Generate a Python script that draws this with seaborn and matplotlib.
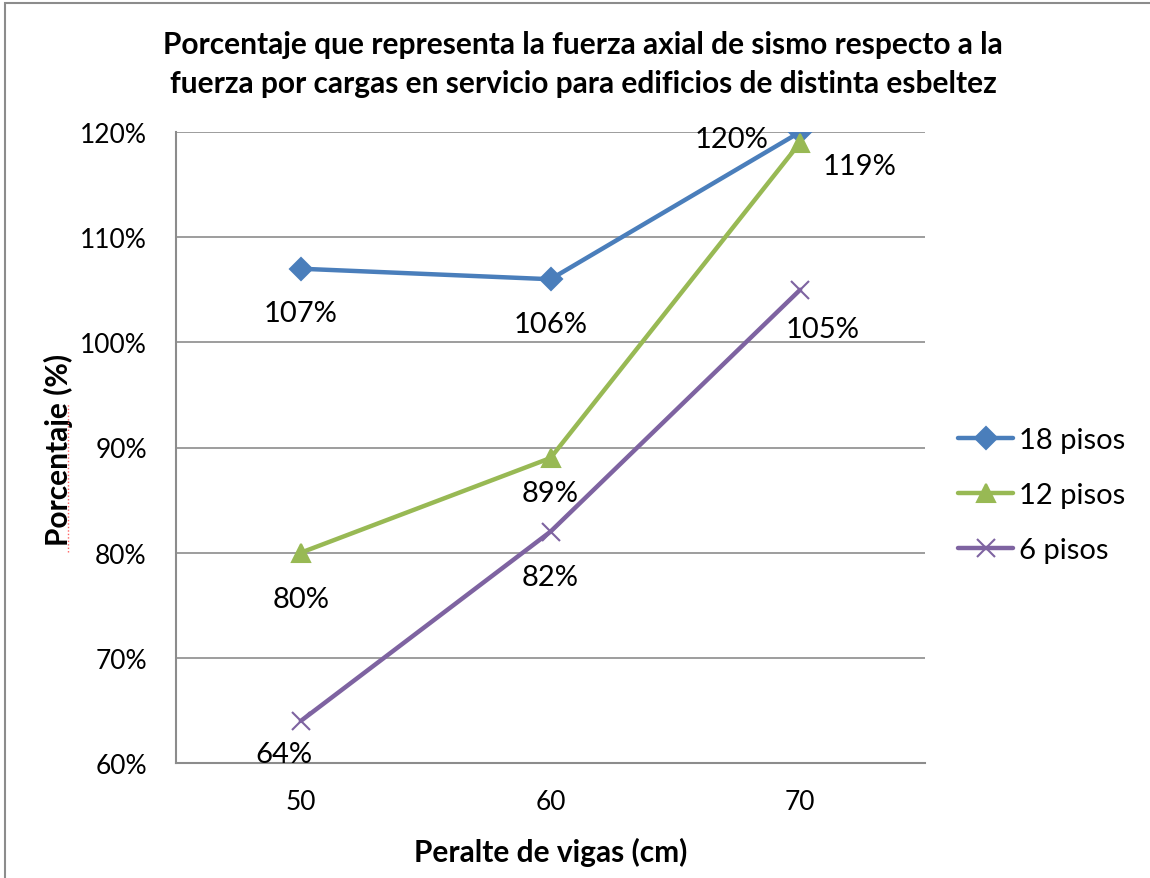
import matplotlib
matplotlib.use("Agg")
import matplotlib.pyplot as plt
from matplotlib.lines import Line2D
from matplotlib.patches import Rectangle
import seaborn as sns
import pandas as pd

# Beam depth (cm) and the share of seismic axial force over service-load force
peralte = [50, 60, 70]
pisos_18 = [1.07, 1.06, 1.20]
pisos_12 = [0.80, 0.89, 1.19]
pisos_6 = [0.64, 0.82, 1.05]
series_names = ["18 pisos", "12 pisos", "6 pisos"]
y_ticks = [0.6, 0.7, 0.8, 0.9, 1.0, 1.1, 1.2]

series_values = [pisos_18, pisos_12, pisos_6]

sns.set_theme(style="white")
plt.rcParams["font.family"] = ["Lato", "DejaVu Sans"]
plt.rcParams["text.color"] = "black"
plt.rcParams["axes.labelcolor"] = "black"

palette = {"18 pisos": "#4A7EBB", "12 pisos": "#98B954", "6 pisos": "#7E63A1"}
markers = {"18 pisos": "D", "12 pisos": "^", "6 pisos": "x"}
msize = {"18 pisos": 11, "12 pisos": 13, "6 pisos": 13}

W, H = 1150, 879
PX = 72 / 100  # pixels -> points at 100 dpi
fig = plt.figure(figsize=(W / 100, H / 100), dpi=100)
ax = fig.add_axes([176 / W, 1 - 764 / H, (925 - 176) / W, (764 - 133) / H])

for name, vals in zip(series_names, series_values):
    d = pd.DataFrame({"peralte": peralte, "valor": vals})
    sns.lineplot(data=d, x="peralte", y="valor", color=palette[name],
                 marker=markers[name], markersize=msize[name],
                 markeredgecolor=palette[name], markeredgewidth=1.5,
                 linewidth=3.2, ax=ax, zorder=3, solid_capstyle="round")

ax.set_xlim(45, 75)
ax.set_ylim(0.6, 1.2)
ax.set_xticks(peralte)
ax.set_xticklabels([str(p) for p in peralte])
ax.set_yticks(y_ticks)
ax.set_yticklabels([f"{int(round(t * 100))}%" for t in y_ticks])
ax.tick_params(axis="both", length=0, labelsize=19, colors="black")
ax.tick_params(axis="y", pad=21)
ax.tick_params(axis="x", pad=19)
ax.yaxis.grid(True, color="#8C8C8C", linewidth=1.2)
ax.set_axisbelow(True)
for side in ["top", "right"]:
    ax.spines[side].set_visible(False)
for side in ["left", "bottom"]:
    ax.spines[side].set_color("#8C8C8C")
    ax.spines[side].set_linewidth(1.5)

ax.set_xlabel("Peralte de vigas (cm)", fontsize=21.5, fontweight="bold", labelpad=16)
ax.set_ylabel("Porcentaje (%)", fontsize=21.5, fontweight="bold")
ax.yaxis.set_label_coords((73 - 176) / (925 - 176), (764 - 450) / (764 - 133))

fig.text(0.507, 1 - 31 / H, "Porcentaje que representa la fuerza axial de sismo respecto a la\n"
         "fuerza por cargas en servicio para edificios de distinta esbeltez",
         ha="center", va="top", fontsize=21.5, fontweight="bold", linespacing=1.5)

# value labels: (dx, baseline drop) in pixels from each point
label_offsets = {
    "18 pisos": [(0, 52), (0, 53), (-69, 15)],
    "12 pisos": [(0, 54), (0, 43), (59, 31)],
    "6 pisos": [(-17, 41), (0, 53), (22, 47)],
}
for name, vals in zip(series_names, series_values):
    for x, y, (dx, dy) in zip(peralte, vals, label_offsets[name]):
        ax.annotate(f"{int(round(y * 100))}%", (x, y), xytext=(dx * PX, -dy * PX),
                    textcoords="offset points", ha="center", va="baseline",
                    fontsize=21, color="black", zorder=5)

handles = [Line2D([0], [0], color=palette[n], marker=markers[n], markersize=msize[n],
                  markeredgecolor=palette[n], markeredgewidth=1.5, linewidth=3.2,
                  solid_capstyle="round") for n in series_names]
fig.legend(handles, series_names, loc="center left", bbox_to_anchor=(958 / W, 1 - 496 / H),
           frameon=False, fontsize=21, handlelength=1.9, handletextpad=0.2,
           labelspacing=1.0, borderpad=0, borderaxespad=0)

# red spell-check squiggle under the axis title word
fig.add_artist(Line2D([68 / W, 68 / W], [1 - 553 / H, 1 - 405 / H],
                      color="#FF6060", linewidth=1, linestyle=(0, (1, 1.5))))

# outer chart border
fig.add_artist(Rectangle((5 / W, -0.05), 1.1, 1 - 4 / H + 0.05,
                         fill=False, edgecolor="#8C8C8C", linewidth=1.5,
                         transform=fig.transFigure))

fig.savefig("out.png", dpi=100)
